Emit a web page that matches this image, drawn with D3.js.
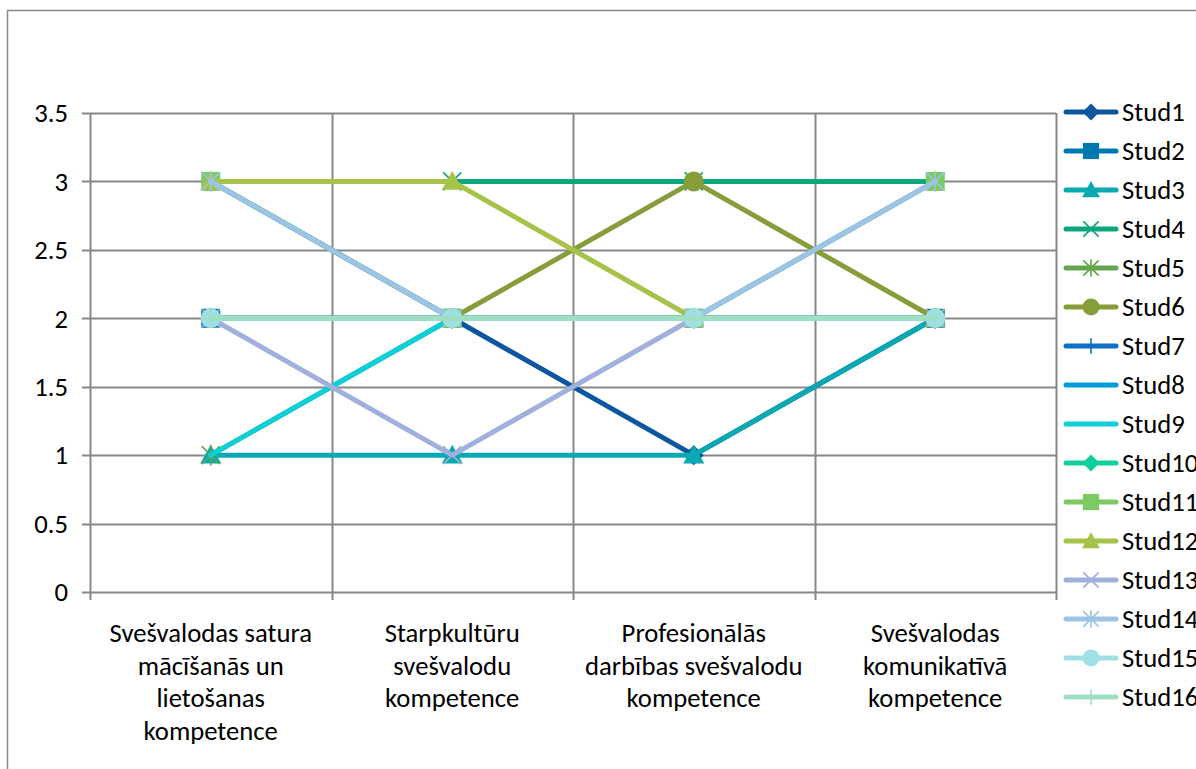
<!DOCTYPE html>
<html>
<head>
<meta charset="utf-8">
<script src="https://cdn.jsdelivr.net/npm/d3@7"></script>
<style>
  html, body { margin: 0; padding: 0; background: #fff; overflow: hidden; }
  svg { display: block; }
  text { font-family: Carlito, Lato, "Liberation Sans", sans-serif; fill: #000; }
</style>
</head>
<body>
<svg id="chart" width="1196" height="769"></svg>
<script>
// Competence categories (x axis)
const categories = [
  ["Svešvalodas satura", "mācīšanās un", "lietošanas", "kompetence"],
  ["Starpkultūru", "svešvalodu", "kompetence"],
  ["Profesionālās", "darbības svešvalodu", "kompetence"],
  ["Svešvalodas", "komunikatīvā", "kompetence"]
];
const seriesNames = ["Stud1","Stud2","Stud3","Stud4","Stud5","Stud6","Stud7","Stud8",
                     "Stud9","Stud10","Stud11","Stud12","Stud13","Stud14","Stud15","Stud16"];
const stud1  = [3, 2, 1, 2];
const stud2  = [2, 2, 2, 2];
const stud3  = [1, 1, 1, 2];
const stud4  = [3, 3, 3, 3];
const stud5  = [1, 2, 2, 2];
const stud6  = [2, 2, 3, 2];
const stud7  = [2, 2, 2, 2];
const stud8  = [3, 2, 2, 3];
const stud9  = [1, 2, 2, 2];
const stud10 = [2, 2, 2, 2];
const stud11 = [3, 2, 2, 3];
const stud12 = [3, 3, 2, 2];
const stud13 = [2, 1, 2, 2];
const stud14 = [3, 2, 2, 3];
const stud15 = [2, 2, 2, 2];
const stud16 = [2, 2, 2, 2];
const seriesValues = [stud1, stud2, stud3, stud4, stud5, stud6, stud7, stud8,
                      stud9, stud10, stud11, stud12, stud13, stud14, stud15, stud16];
const yTicks = [0, 0.5, 1, 1.5, 2, 2.5, 3, 3.5];

const colors = ["#0c55a0", "#0079b0", "#09a9b1", "#0ca67d", "#62a64e", "#869e3a",
                "#0f6fc6", "#009dd9", "#0bd0d9", "#10cf9b", "#7cca62", "#a5c249",
                "#9fb0dc", "#9dc3e6", "#9fe0e6", "#9fdfc3"];
const markers = ["diamond", "square", "triangle", "x", "star", "circle", "plus", "none",
                 "none", "diamond", "square", "triangle", "x", "star", "circle", "plus"];
const markerSize = { diamond: 20, square: 19, triangle: 21, x: 18, star: 18, circle: 20, plus: 18, none: 0 };
const legendScale = 0.85;

const svg = d3.select("#chart");
const plot = { left: 90, right: 1056, top: 113, bottom: 592 };
const fontSize = 26.7;

// chart frame
svg.append("rect")
  .attr("x", 7.5).attr("y", 10.5)
  .attr("width", 1300).attr("height", 900)
  .attr("fill", "none").attr("stroke", "#898989").attr("stroke-width", 1.5);

const x = d3.scaleBand().domain(d3.range(categories.length))
  .range([plot.left, plot.right]).paddingInner(0).paddingOuter(0);
const y = d3.scaleLinear().domain([0, 3.5]).range([plot.bottom, plot.top]);

const grid = "#888888";

// horizontal gridlines
svg.append("g").selectAll("line").data(yTicks).join("line")
  .attr("x1", plot.left - 8).attr("x2", plot.right)
  .attr("y1", d => Math.round(y(d)) + 0.5).attr("y2", d => Math.round(y(d)) + 0.5)
  .attr("stroke", grid).attr("stroke-width", 2);

// vertical gridlines at category boundaries
const bounds = d3.range(categories.length + 1).map(i => plot.left + i * x.bandwidth());
svg.append("g").selectAll("line").data(bounds).join("line")
  .attr("x1", d => Math.round(d) + 0.5).attr("x2", d => Math.round(d) + 0.5)
  .attr("y1", plot.top).attr("y2", plot.bottom + 8)
  .attr("stroke", grid).attr("stroke-width", 2);

// y tick labels
svg.append("g").selectAll("text").data(yTicks).join("text")
  .attr("x", 68).attr("y", d => y(d))
  .attr("dy", "0.35em").attr("text-anchor", "end")
  .attr("font-size", fontSize)
  .text(d => d3.format("")(d));

// x category labels
const xl = svg.append("g").selectAll("text").data(categories).join("text")
  .attr("x", (d, i) => x(i) + x.bandwidth() / 2)
  .attr("y", 642)
  .attr("text-anchor", "middle").attr("font-size", fontSize);
xl.selectAll("tspan").data(d => d).join("tspan")
  .attr("x", function () { return this.parentNode.getAttribute("x"); })
  .attr("dy", (d, i) => i === 0 ? 0 : 32.5)
  .text(d => d);

function markerPath(type, size) {
  const s = size / 2;
  switch (type) {
    case "diamond": return `M0,${-s}L${s},0L0,${s}L${-s},0Z`;
    case "square": return `M${-s},${-s}H${s}V${s}H${-s}Z`;
    case "triangle": return `M0,${-s}L${s},${s * 0.8}H${-s}Z`;
    case "x": return `M${-s},${-s}L${s},${s}M${s},${-s}L${-s},${s}`;
    case "star": return `M${-s},${-s}L${s},${s}M${s},${-s}L${-s},${s}M0,${-s * 1.15}V${s * 1.15}`;
    case "plus": return `M0,${-s}V${s}M${-s},0H${s}`;
    default: return "";
  }
}

function drawMarker(g, type, color, cx, cy, scale) {
  if (type === "none") return;
  const size = markerSize[type] * scale;
  if (type === "circle") {
    g.append("circle").attr("cx", cx).attr("cy", cy).attr("r", size / 2).attr("fill", color);
    return;
  }
  const filled = ["diamond", "square", "triangle"].includes(type);
  g.append("path").attr("d", markerPath(type, size))
    .attr("transform", `translate(${cx},${cy})`)
    .attr("fill", filled ? color : "none")
    .attr("stroke", color).attr("stroke-width", filled ? 0 : 1.6);
}

const line = d3.line().x((d, i) => x(i) + x.bandwidth() / 2).y(d => y(d));

// series lines with markers, drawn in order
seriesValues.forEach((vals, k) => {
  const g = svg.append("g");
  g.append("path").datum(vals).attr("d", line)
    .attr("fill", "none").attr("stroke", colors[k])
    .attr("stroke-width", 5).attr("stroke-linejoin", "round").attr("stroke-linecap", "round");
  vals.forEach((v, i) => drawMarker(g, markers[k], colors[k], x(i) + x.bandwidth() / 2, y(v), 1));
});

// legend
const lg = svg.append("g");
seriesNames.forEach((name, k) => {
  const ly = 112 + k * 39;
  const row = lg.append("g");
  row.append("line").attr("x1", 1066).attr("x2", 1116).attr("y1", ly).attr("y2", ly)
    .attr("stroke", colors[k]).attr("stroke-width", 5).attr("stroke-linecap", "round");
  drawMarker(row, markers[k], colors[k], 1091, ly, legendScale);
  row.append("text").attr("x", 1122).attr("y", ly).attr("dy", "0.35em")
    .attr("font-size", fontSize).text(name);
});
</script>
</body>
</html>
